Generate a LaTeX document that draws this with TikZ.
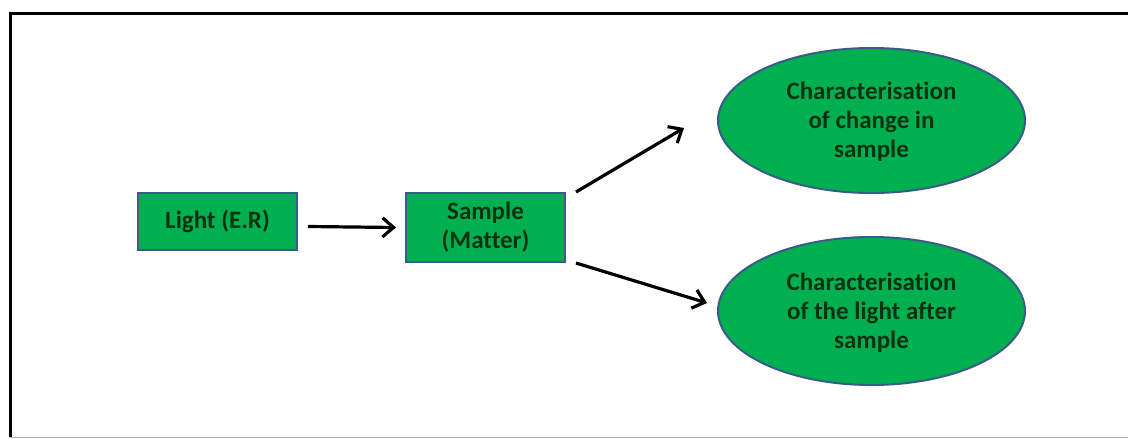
\documentclass[tikz,border=0pt]{standalone}
\usepackage{fontspec}
\setmainfont{Carlito}[Ligatures=NoCommon]
\usetikzlibrary{arrows.meta,shapes.geometric}
\definecolor{boxgreen}{RGB}{0,176,80}
\definecolor{boxedge}{RGB}{56,93,138}
\definecolor{txtgreen}{RGB}{8,50,18}
\begin{document}
\begin{tikzpicture}[x=1pt,y=-1pt,
  shp/.style={fill=boxgreen,draw=boxedge,line width=2pt,text=txtgreen,
    font=\fontsize{25}{29}\selectfont\bfseries,align=center,inner sep=0pt},
  rbox/.style={shp,rectangle},
  ebox/.style={shp,ellipse},
  arr/.style={line width=3.2pt,-{Straight Barb[length=11pt,width=19pt,line width=3.2pt]}}]
\useasboundingbox (0,0) rectangle (1128,439);
\fill[white] (0,0) rectangle (1128,439);
% frame
\draw[line width=3pt] (10,437) -- (10,13) -- (1130,13);
\draw[line width=1pt,gray!60] (10,437.5) -- (1128,437.5);
% nodes
\node[rbox,minimum width=159pt,minimum height=57pt] (light) at (217.5,221.5) {Light (E.R)};
\node[rbox,minimum width=159pt,minimum height=69pt] (sample) at (485.5,227.5) {Sample\\(Matter)};
\node[ebox,minimum width=307pt,minimum height=145pt] (ell1) at (871.5,120.5) {\rule{0pt}{20pt}Characterisation\\of change in\\sample};
\node[ebox,minimum width=307pt,minimum height=148pt] (ell2) at (871.5,311) {\rule{0pt}{20pt}Characterisation\\of the light after\\sample};
% arrows
\draw[arr] ([xshift=10pt,yshift=-5pt]light.east) -- ([xshift=-9pt]sample.west);
\draw[arr] ([xshift=10pt]sample.north east) -- ([xshift=-33pt,yshift=-7.5pt]ell1.west);
\draw[arr] ([xshift=10pt]sample.south east) -- ([xshift=-10pt,yshift=8pt]ell2.west);
\end{tikzpicture}
\end{document}
